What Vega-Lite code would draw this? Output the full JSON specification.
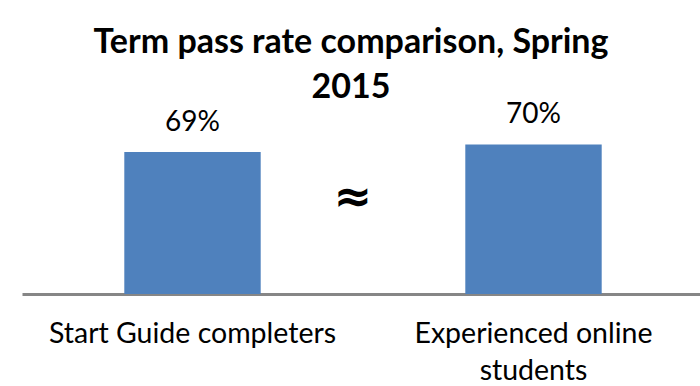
{
  "$schema": "https://vega.github.io/schema/vega-lite/v6.json",
  "autosize": {"type": "none"},
  "width": 682,
  "height": 187,
  "padding": {"left": 22, "top": 107, "right": 0, "bottom": 92},
  "background": "white",
  "title": {
    "text": ["Term pass rate comparison, Spring", "2015"],
    "font": "Lato",
    "fontWeight": "bold",
    "fontSize": 34,
    "lineHeight": 45,
    "color": "black",
    "anchor": "middle",
    "dx": -12,
    "offset": -4
  },
  "config": {"view": {"stroke": null}},
  "layer": [
    {
      "data": {"values": [
        {"group": "Start Guide completers", "rate": 0.69},
        {"group": "Experienced online students", "rate": 0.70}
      ]},
      "encoding": {
        "x": {
          "field": "group", "type": "nominal", "sort": null,
          "scale": {"paddingInner": 0.6, "paddingOuter": 0.3},
          "axis": {
            "title": null, "ticks": false, "labelAngle": 0,
            "domainColor": "#868686", "domainWidth": 3,
            "labelFont": "Lato", "labelFontSize": 28.5, "labelColor": "black",
            "labelPadding": 25, "labelLimit": 600, "labelLineHeight": 37,
            "labelExpr": "datum.label == 'Experienced online students' ? ['Experienced online', 'students'] : datum.label"
          }
        },
        "y": {
          "field": "rate", "type": "quantitative",
          "scale": {"domain": [0.5, 0.75], "zero": false, "clamp": true},
          "axis": null
        }
      },
      "layer": [
        {"mark": {"type": "bar", "color": "#4F81BD"}},
        {
          "mark": {"type": "text", "baseline": "alphabetic", "dy": -21, "font": "Lato", "fontSize": 28, "color": "black"},
          "encoding": {"text": {"field": "rate", "format": ".0%"}}
        }
      ]
    },
    {
      "data": {"values": [{"symbol": "≈", "pos": 0.485, "level": 0.628}]},
      "mark": {"type": "text", "baseline": "middle", "align": "center", "font": "DejaVu Sans", "fontWeight": "bold", "fontSize": 46, "color": "black"},
      "encoding": {
        "x": {"field": "pos", "type": "quantitative", "scale": {"domain": [0, 1]}, "axis": null},
        "y": {"field": "level", "type": "quantitative", "scale": {"domain": [0.5, 0.75], "zero": false}, "axis": null},
        "text": {"field": "symbol"}
      }
    }
  ],
  "resolve": {"scale": {"x": "independent"}}
}
